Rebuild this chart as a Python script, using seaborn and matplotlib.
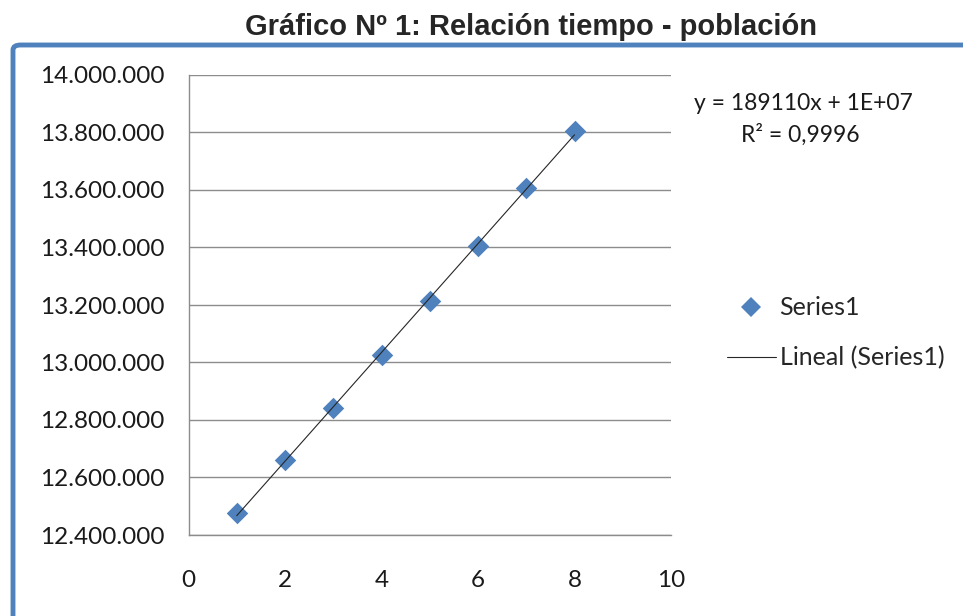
import numpy as np
import pandas as pd
import matplotlib
matplotlib.use("Agg")
import matplotlib.pyplot as plt
from matplotlib.lines import Line2D
from matplotlib.patches import FancyBboxPatch
from matplotlib.ticker import FuncFormatter
import seaborn as sns

# values
tiempo = [1, 2, 3, 4, 5, 6, 7, 8]
poblacion = [12478000, 12661000, 12841000, 13026000, 13214000, 13406000, 13606000, 13805000]
y_ticks = [12400000, 12600000, 12800000, 13000000, 13200000, 13400000, 13600000, 13800000, 14000000]
x_ticks = [0, 2, 4, 6, 8, 10]
titulo = "Gráfico Nº 1: Relación tiempo - población"
ecuacion = "y = 189110x + 1E+07"
r2_texto = "R² = 0,9996"
etiquetas = ["Series1", "Lineal (Series1)"]

BLUE = "#4F81BD"
GRAY = "#8C8C8C"
LINE = "#262626"
W, H = 963, 616

sns.set_style("white")
plt.rcParams["font.family"] = ["Lato", "DejaVu Sans"]

df = pd.DataFrame({"tiempo": tiempo, "poblacion": poblacion})

fig = plt.figure(figsize=(W / 100, H / 100), dpi=100)
ax = fig.add_axes([188.5 / W, 1 - 535 / H, (671 - 188.5) / W, (535 - 75) / H])

ax.grid(axis="y", color=GRAY, lw=1)
ax.set_axisbelow(True)
sns.scatterplot(data=df, x="tiempo", y="poblacion", marker="D", s=120,
                color=BLUE, edgecolor=BLUE, linewidth=0, ax=ax, zorder=3)
sns.regplot(data=df, x="tiempo", y="poblacion", scatter=False, ci=None, truncate=True,
            line_kws=dict(color=LINE, lw=0.8, zorder=4), ax=ax)

ax.set_xlim(0, 10)
ax.set_ylim(12400000, 14000000)
ax.set_xticks(x_ticks)
ax.set_yticks(y_ticks)
ax.yaxis.set_major_formatter(FuncFormatter(lambda v, p: f"{v:,.0f}".replace(",", ".")))
ax.set_xlabel("")
ax.set_ylabel("")
for s in ["top", "right"]:
    ax.spines[s].set_visible(False)
for s in ["left", "bottom"]:
    ax.spines[s].set_color(GRAY)
    ax.spines[s].set_linewidth(1)
ax.tick_params(axis="both", direction="out", length=6, width=0.8, color=GRAY,
               labelsize=17.5, labelcolor="#1a1a1a")
ax.tick_params(axis="y", pad=11)
ax.tick_params(axis="x", pad=19)

fig.text(531 / W, 1 - 27 / H, titulo, ha="center", va="center",
         family=["Liberation Sans", "DejaVu Sans"], fontweight="bold", fontsize=21)

frame = FancyBboxPatch((13 / W, -0.2), 1.3, (1 - 45 / H) + 0.2,
                       boxstyle="round,pad=0,rounding_size=0.008",
                       transform=fig.transFigure, fill=False,
                       edgecolor=BLUE, lw=3.5)
fig.add_artist(frame)

fig.text(803 / W, 1 - 104 / H, ecuacion, ha="center", va="center", fontsize=16.5, color="#1a1a1a")
fig.text(800 / W, 1 - 135 / H, r2_texto, ha="center", va="center", fontsize=16.5, color="#1a1a1a")

handles = [
    Line2D([], [], marker="D", ls="", color=BLUE, markersize=10.5, markeredgewidth=0),
    Line2D([], [], color=LINE, lw=0.8),
]
fig.legend(handles, etiquetas, loc="center left", bbox_to_anchor=(727 / W, 1 - 333 / H),
           frameon=False, fontsize=18, handlelength=1.95, handletextpad=0.15,
           labelspacing=1.08, borderpad=0, borderaxespad=0)

fig.savefig("out.png", dpi=100)
